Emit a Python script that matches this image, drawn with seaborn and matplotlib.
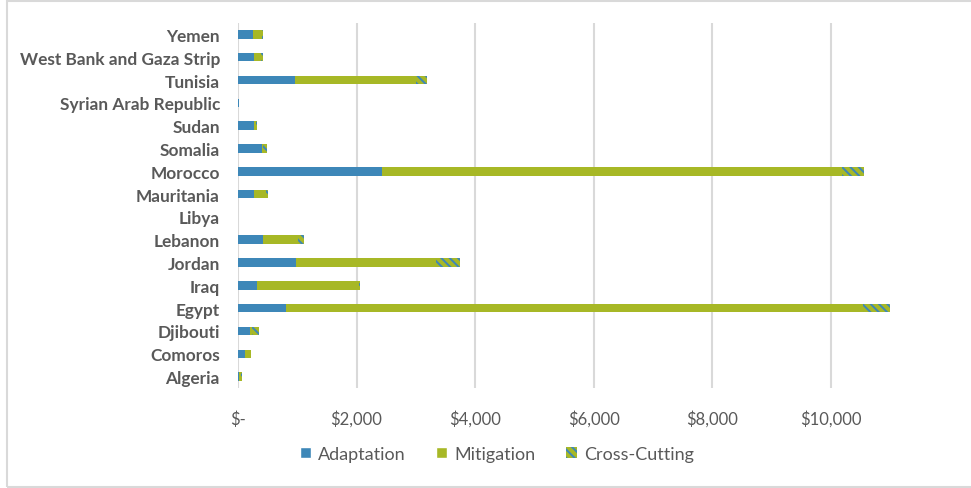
import numpy as np
import pandas as pd
import seaborn as sns
import matplotlib.pyplot as plt
from matplotlib.patches import Patch, Rectangle

# countries from top to bottom, values in $
countries = ['Yemen', 'West Bank and Gaza Strip', 'Tunisia', 'Syrian Arab Republic',
             'Sudan', 'Somalia', 'Morocco', 'Mauritania', 'Libya', 'Lebanon',
             'Jordan', 'Iraq', 'Egypt', 'Djibouti', 'Comoros', 'Algeria']
adaptation = [245, 262, 968, 10, 274, 398, 2425, 274, 0, 420, 985, 313, 817, 195, 111, 10]
mitigation = [157, 118, 2033, 10, 34, 22, 7770, 196, 0, 600, 2353, 1731, 9726, 45, 107, 40]
cross_cutting = [20, 50, 185, 5, 5, 73, 365, 28, 0, 96, 409, 17, 459, 106, 0, 10]

xticks = [0, 2000, 4000, 6000, 8000, 10000]
xtick_labels = ['$-', '$2,000', '$4,000', '$6,000', '$8,000', '$10,000']

BLUE = '#3D87B8'
GREEN = '#A7B826'
TXT = '#595959'
HATCH = '\\' * 4

df = pd.DataFrame({'country': countries,
                   'adapt': adaptation,
                   'mitig': mitigation,
                   'cross': cross_cutting})
df['a_m'] = df['adapt'] + df['mitig']
df['total'] = df['a_m'] + df['cross']

sns.set_theme(style='white')
plt.rcParams['font.family'] = ['Lato', 'DejaVu Sans']
plt.rcParams['hatch.linewidth'] = 1.4

fig = plt.figure(figsize=(9.71, 4.89), dpi=100)
ax = fig.add_axes([238 / 971, 1 - 389 / 489, (896 - 238) / 971, 365 / 489])

# stacked bars: draw totals first, then overlay partial sums
sns.barplot(data=df, y='country', x='total', order=countries, orient='h',
            color=GREEN, width=0.37, ax=ax, saturation=1, linewidth=0,
            edgecolor=BLUE, hatch=HATCH)
sns.barplot(data=df, y='country', x='a_m', order=countries, orient='h',
            color=GREEN, width=0.37, ax=ax, saturation=1, linewidth=0)
sns.barplot(data=df, y='country', x='adapt', order=countries, orient='h',
            color=BLUE, width=0.37, ax=ax, saturation=1, linewidth=0)

ax.set_xlim(0, 11100)
ax.set_ylim(len(countries) - 0.5, -0.5)
ax.set_xticks(xticks)
ax.set_xticklabels(xtick_labels, color=TXT, fontsize=12)
ax.set_yticklabels(countries, color=TXT, fontsize=12.4, fontweight='bold')
ax.tick_params(axis='y', length=0, pad=13)
ax.tick_params(axis='x', length=0, pad=16)
ax.set_xlabel('')
ax.set_ylabel('')
for s in ax.spines.values():
    s.set_visible(False)
ax.grid(axis='x', color='#D9D9D9', linewidth=1.5)
ax.set_axisbelow(True)

handles = [Patch(facecolor=BLUE, label='Adaptation'),
           Patch(facecolor=GREEN, label='Mitigation'),
           Patch(facecolor=GREEN, edgecolor=BLUE, linewidth=0, hatch=HATCH, label='Cross-Cutting')]
leg = fig.legend(handles=handles, loc='center', bbox_to_anchor=(497 / 971, 1 - 455 / 489),
                 ncol=3, frameon=False, fontsize=13, handlelength=0.6, handleheight=0.6,
                 handletextpad=0.4, columnspacing=1.7)
for t in leg.get_texts():
    t.set_color(TXT)

fig.patches.append(Rectangle((7 / 971, 1 / 489), 1.2, 486 / 489, transform=fig.transFigure,
                             fill=False, edgecolor='#D9D9D9', linewidth=1.5))

fig.savefig('out.png', dpi=100)
